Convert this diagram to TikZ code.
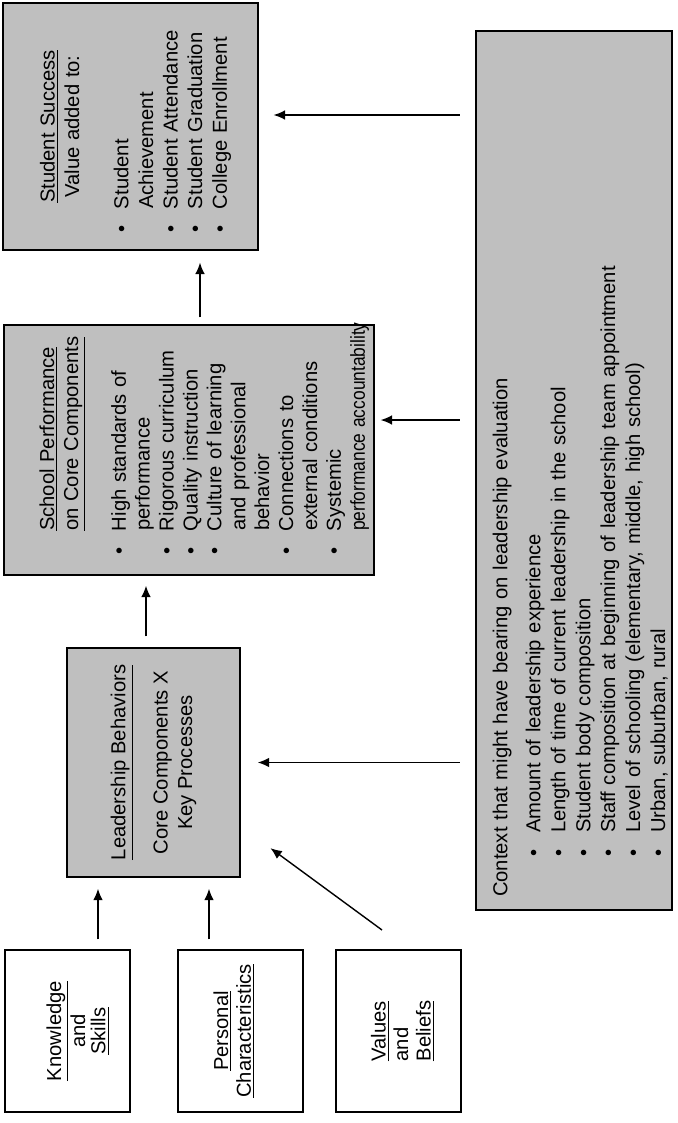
\documentclass[tikz,border=0pt]{standalone}
\usepackage{fontspec}
\setmainfont{Liberation Sans}
\usepackage{xcolor}
\usepackage{graphicx}
\usetikzlibrary{arrows.meta}

\newcommand{\bul}{\makebox[0.48cm][l]{\textbullet}}
\newcommand{\ind}{\hspace*{0.48cm}}

\tikzset{
  shadebox/.style={draw,thick,fill=gray!50,rotate=90,inner sep=0pt,align=left,
    font=\fontsize{11.5}{14}\selectfont},
  whitebox/.style={draw,thick,rotate=90,inner sep=0pt,align=center,
    minimum width=3.24cm,minimum height=2.5cm,font=\fontsize{11.5}{12.8}\selectfont},
  arr/.style={thick,-{Latex[length=6.5pt,width=5.5pt]}}
}

\begin{document}
\begin{tikzpicture}[x=0.02cm,y=-0.02cm]
\useasboundingbox (0,0) rectangle (677,1123);

% outcome and school boxes
\node[shadebox,minimum width=4.94cm,minimum height=5.1cm,text width=4.26cm] (ss) at (130.5,126.5) {%
\rule{0pt}{14pt}\makebox[4.26cm]{\underline{Student Success}}\\
\makebox[4.26cm]{Value added to:}\\[14pt]
\bul Student\\
\ind Achievement\\
\bul Student Attendance\\
\bul Student Graduation\\
\bul College Enrollment};

\node[shadebox,font=\fontsize{11.5}{13.6}\selectfont,minimum width=5cm,minimum height=7.4cm,text width=4.2cm] (sp) at (189,450) {%
\rule{0pt}{25.7pt}\ind\underline{School Performance}\\
\ind\underline{on Core Components}\\[13.6pt]
\bul High standards of\\
\ind performance\\
\bul Rigorous curriculum\\
\bul Quality instruction\\
\bul Culture of learning\\
\ind and professional\\
\ind behavior\\
\bul Connections to\\
\ind external conditions\\
\bul Systemic\\
\ind\scalebox{0.86}[1]{performance accountability}};

\node[shadebox,align=center,minimum width=4.58cm,minimum height=3.46cm] (lb) at (153.5,762.5) {%
\underline{Leadership Behaviors}\\[10pt]
Core Components X\\
Key Processes};

% the three inputs
\node[whitebox,font=\fontsize{11.5}{11.5}\selectfont] (ks) at (67.5,1031)
  {\rule{0pt}{20pt}\underline{Knowledge}\\and\\\underline{Skills}};
\node[whitebox,font=\fontsize{11.5}{13}\selectfont] (pc) at (240.5,1031)
  {\underline{Personal}\\\underline{Characteristics}\rule[-9.5pt]{0pt}{0pt}};
\node[whitebox,align=left] (vb) at (398.5,1031)
  {\rule{0pt}{13pt}\underline{Values}\\and\\\underline{Beliefs}};

% context
\node[shadebox,font=\fontsize{11.5}{14.2}\selectfont,minimum width=17.58cm,minimum height=3.92cm,text width=17.06cm] (ctx) at (574,470.5) {%
\rule{0pt}{15.4pt}Context that might have bearing on leadership evaluation\\[4.6pt]
\hspace*{0.8cm}\bul Amount of leadership experience\\
\hspace*{0.8cm}\bul Length of time of current leadership in the school\\
\hspace*{0.8cm}\bul Student body composition\\
\hspace*{0.8cm}\bul Staff composition at beginning of leadership team appointment\\
\hspace*{0.8cm}\bul Level of schooling (elementary, middle, high school)\\
\hspace*{0.8cm}\bul Urban, suburban, rural};

% arrows
\coordinate (k1) at (98,0);
\coordinate (k2) at (209,0);
\coordinate (k3) at (146,0);
\coordinate (k4) at (200,0);
\coordinate (v1) at (382,930);
\coordinate (c2) at (0,420);
\coordinate (c3) at (0,115);
\draw[arr,shorten <=5.7pt,shorten >=6.3pt] (ks.east -| k1) -- (lb.west -| k1);
\draw[arr,shorten <=5.7pt,shorten >=6.3pt] (pc.east -| k2) -- (lb.west -| k2);
\draw[arr,shorten >=21pt] (v1) -- (lb);
\draw[arr,shorten <=9pt,shorten >=9.7pt] (ctx.north |- lb) -- (lb);
\draw[arr,shorten <=6.3pt,shorten >=5.7pt] (lb.east -| k3) -- (sp.west -| k3);
\draw[arr,shorten <=9pt,shorten >=3.4pt] (ctx.north |- c2) -- (sp.south |- c2);
\draw[arr,shorten <=4pt,shorten >=6.8pt] (sp.east -| k4) -- (ss.west -| k4);
\draw[arr,shorten <=9pt,shorten >=8.5pt] (ctx.north |- c3) -- (ss.south |- c3);
\end{tikzpicture}
\end{document}
